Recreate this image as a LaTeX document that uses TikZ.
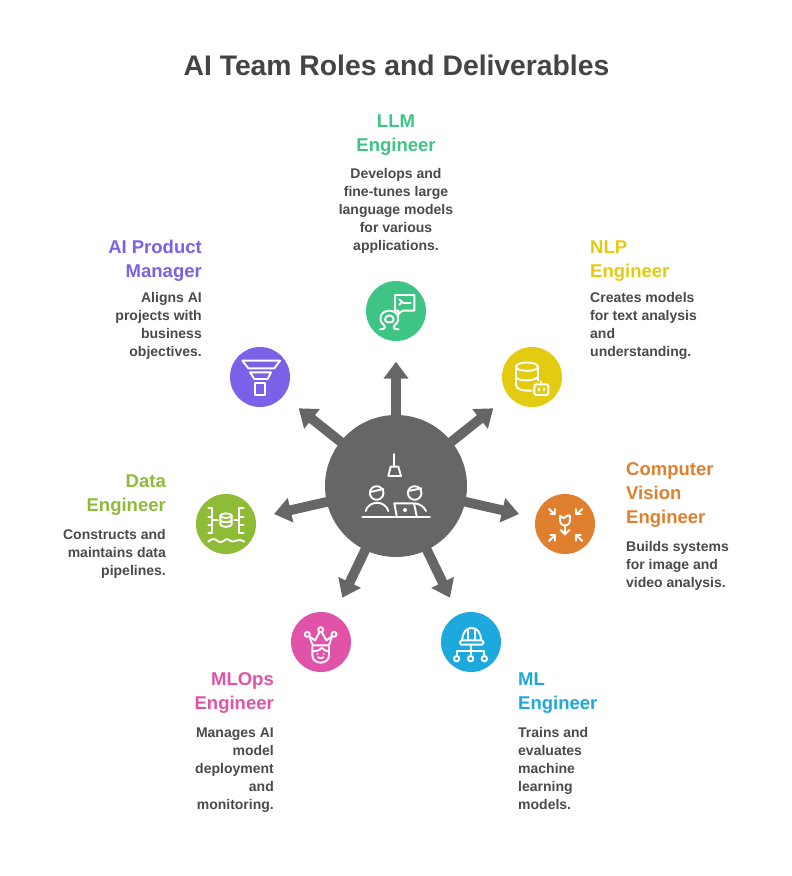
\documentclass[tikz,border=0pt]{standalone}
\usepackage{fontspec}
\setmainfont{Liberation Sans}
\usetikzlibrary{arrows.meta}
\definecolor{cllm}{HTML}{3EC585}
\definecolor{cpm}{HTML}{7B61E8}
\definecolor{cnlp}{HTML}{E3CB12}
\definecolor{ccv}{HTML}{E0802F}
\definecolor{cml}{HTML}{1EA9DC}
\definecolor{cops}{HTML}{E053A9}
\definecolor{cdata}{HTML}{8FBC36}
\definecolor{cgrey}{HTML}{666666}
\definecolor{ctitle}{HTML}{444444}
\definecolor{cdesc}{HTML}{4A4A4A}
\tikzset{
  hub/.style={circle,fill=cgrey,minimum size=142pt,inner sep=0pt},
  disc/.style={circle,minimum size=60pt,inner sep=0pt},
  spoke/.style={draw=cgrey,line width=9.7pt,-{Triangle[length=17pt,width=24pt]}},
  head/.style={font=\fontsize{18.5}{24}\selectfont\bfseries,inner sep=0pt,anchor=north},
  desc/.style={font=\fontsize{14}{18}\selectfont\bfseries,inner sep=0pt,anchor=north,text=cdesc},
  ico/.style={draw=white,line width=1.9pt,line join=round,line cap=round},
  icozoom/.style={shift={#1},x=0.33333pt,y=-0.33333pt}
}
\begin{document}
\begin{tikzpicture}[x=1pt,y=-1pt]
\useasboundingbox (0,0) rectangle (792,876);
\fill[white] (0,0) rectangle (792,876);
\node[font=\fontsize{28.3}{34}\selectfont\bfseries,text=ctitle,inner sep=0pt] (title) at (396.5,65) {AI Team Roles and Deliverables};

% tips
\coordinate (tllm) at (396,361.7);
\coordinate (tpm) at (298.7,408.3);
\coordinate (tnlp) at (493.3,408.3);
\coordinate (tcv) at (519,514);
\coordinate (tml) at (450,597.7);
\coordinate (tops) at (342.3,597.7);
\coordinate (tdata) at (274,514);
\coordinate (hubc) at (396,486);
\foreach \t in {tllm,tpm,tnlp,tcv,tml,tops,tdata}{\draw[spoke] (hubc) -- (\t);}
\node[hub] (center) at (hubc) {};

\node[disc,fill=cllm] (llm) at (396,311) {};
\node[disc,fill=cpm] (pm) at (260,377) {};
\node[disc,fill=cnlp] (nlp) at (532,377) {};
\node[disc,fill=ccv] (cv) at (565,524) {};
\node[disc,fill=cml] (ml) at (471,642) {};
\node[disc,fill=cops] (ops) at (321,642) {};
\node[disc,fill=cdata] (data) at (226,524) {};

% hub icon
\begin{scope}[icozoom={(320,410)}]
\draw[ico] (223,132)--(223,170);
\draw[ico] (212,170)--(235,170)--(243,198)--(205,198)--cycle;
\draw[ico] (170,249) circle (6.8pt);
\draw[ico] (151,246)--(190,237);
\draw[ico] (284,249) circle (6.8pt);
\draw[ico] (265,243)--(304,235);
\draw[ico] (137,303) .. controls (147,270) and (195,270) .. (205,303);
\draw[ico] (285,280) .. controls (300,282) and (312,290) .. (318,303);
\draw[ico] (230,318)--(223,280)--(282,280)--(290,318);
\fill[white] (255,300) circle (2pt);
\draw[ico] (127,322)--(330,322);
\end{scope}

% LLM icon
\begin{scope}[icozoom={(320,270)}]
\draw[ico] (225,75)--(283,75)--(283,122)--(247,122)--(235,133)--(235,122)--(225,122)--cycle;
\draw[ico] (238,88)--(247,96)--(238,104);
\draw[ico] (250,100)--(272,100);
\draw[ico] (180,178) .. controls (196,178) and (198,172) .. (190,163) .. controls (172,150) and (182,122) .. (208,122) .. controls (234,122) and (244,150) .. (226,163) .. controls (218,172) and (220,178) .. (236,178);
\draw[ico] (195,150) .. controls (192,132) and (224,132) .. (221,150) .. controls (220,160) and (196,160) .. (195,150);
\end{scope}

% PM icon
\begin{scope}[icozoom={(220,340)}]
\draw[ico] (67,62)--(180,62)--(163,85)--(85,85)--cycle;
\draw[ico] (90,97)--(153,97)--(143,117)--(103,117)--cycle;
\draw[ico] (104,128) rectangle (135,165);
\end{scope}

% NLP icon
\begin{scope}[icozoom={(490,340)}]
\draw[ico] (111,80) ellipse (11pt and 4.2pt);
\draw[ico] (78,80)--(78,135) .. controls (78,148) and (100,153) .. (125,152);
\draw[ico] (144,80)--(144,122);
\draw[ico] (78,110) .. controls (82,125) and (135,125) .. (144,110);
\draw[ico,rounded corners=2pt] (133,133) rectangle (175,165);
\draw[ico] (154,133)--(154,124);
\draw[ico] (147,145)--(147,151);
\draw[ico] (161,145)--(161,151);
\end{scope}

% CV icon
\begin{scope}[icozoom={(525,485)}]
\draw[ico] (105,92)--(116,100)--(126,92)--(135,92)--(135,105) .. controls (135,118) and (125,122) .. (120,122) .. controls (115,122) and (105,118) .. (105,105)--cycle;
\draw[ico] (120,122)--(120,148);
\draw[ico] (107,135)--(120,148)--(133,135);
\draw[ico] (72,72)--(90,88);
\draw[ico] (76,88)--(91,88)--(91,72);
\draw[ico] (172,72)--(154,88);
\draw[ico] (168,88)--(153,88)--(153,72);
\draw[ico] (72,168)--(90,151);
\draw[ico] (76,151)--(91,151)--(91,167);
\draw[ico] (172,168)--(154,151);
\draw[ico] (168,151)--(153,151)--(153,167);
\end{scope}

% ML icon
\begin{scope}[icozoom={(430,602)}]
\draw[ico,rounded corners=1.5pt] (90,115) rectangle (160,128);
\draw[ico] (97,115) .. controls (97,90) and (110,78) .. (125,78) .. controls (140,78) and (153,90) .. (153,115);
\draw[ico] (113,85)--(113,112);
\draw[ico] (135,85)--(135,112);
\draw[ico] (123,128)--(123,160);
\draw[ico] (80,160)--(80,148)--(163,148)--(163,160);
\draw[ico] (80,170) circle (2.7pt);
\draw[ico] (122,170) circle (2.7pt);
\draw[ico] (163,170) circle (2.7pt);
\end{scope}

% MLOps icon
\begin{scope}[icozoom={(280,602)}]
\draw[ico] (82,97) circle (2.5pt);
\draw[ico] (122,83) circle (2.5pt);
\draw[ico] (162,97) circle (2.5pt);
\draw[ico] (88,103)--(105,115)--(119,90);
\draw[ico] (125,90)--(139,115)--(156,103);
\draw[ico] (88,103)--(98,130)--(147,130)--(156,103);
\draw[ico] (97,135)--(97,160) .. controls (97,175) and (110,182) .. (122,182) .. controls (134,182) and (147,175) .. (147,160)--(147,135);
\draw[ico] (97,148) .. controls (110,148) and (120,145) .. (125,137) .. controls (130,145) and (140,148) .. (147,148);
\fill[white] (113,156) circle (1pt);
\fill[white] (131,156) circle (1pt);
\draw[ico] (114,166) .. controls (118,170) and (126,170) .. (130,166);
\end{scope}

% Data icon
\begin{scope}[icozoom={(186,485)}]
\draw[ico] (78,68)--(78,143);
\draw[ico] (67,70)--(78,70);
\draw[ico] (67,95)--(78,95);
\draw[ico] (67,120)--(78,120);
\draw[ico] (67,143)--(78,143);
\draw[ico] (160,68)--(160,143);
\draw[ico] (160,70)--(173,70);
\draw[ico] (160,95)--(173,95);
\draw[ico] (160,120)--(173,120);
\draw[ico] (160,143)--(173,143);
\draw[ico] (78,105)--(95,105);
\draw[ico] (145,105)--(160,105);
\draw[ico] (120,92) ellipse (5.6pt and 2.3pt);
\draw[ico] (103,92)--(103,118) .. controls (103,128) and (137,128) .. (137,118)--(137,92);
\draw[ico] (103,105) .. controls (103,114) and (137,114) .. (137,105);
\draw[ico] (67,170) .. controls (77,160) and (87,160) .. (95,168) .. controls (103,175) and (110,170) .. (120,163) .. controls (130,160) and (135,175) .. (147,168) .. controls (155,162) and (165,165) .. (175,170);
\end{scope}

% Text
\node[head,text=cllm,align=center] (hllm) at (396,110) {\strut LLM\\Engineer};
\node[desc,align=center] (dllm) at (396,165.4) {\strut Develops and\\fine-tunes large\\language models\\for various\\applications.};
\node[head,text=cpm,align=right,anchor=north east] (hpm) at (202,236) {\strut AI Product\\Manager};
\node[desc,align=right,anchor=north east] (dpm) at (202,289.4) {\strut Aligns AI\\projects with\\business\\objectives.};
\node[head,text=cnlp,align=left,anchor=north west] (hnlp) at (590,236) {\strut NLP\\Engineer};
\node[desc,align=left,anchor=north west] (dnlp) at (590,289.4) {\strut Creates models\\for text analysis\\and\\understanding.};
\node[head,text=ccv,align=left,anchor=north west] (hcv) at (626,458) {\strut Computer\\Vision\\Engineer};
\node[desc,align=left,anchor=north west] (dcv) at (626,538.4) {\strut Builds systems\\for image and\\video analysis.};
\node[head,text=cml,align=left,anchor=north west] (hml) at (518,668) {\strut ML\\Engineer};
\node[desc,align=left,anchor=north west] (dml) at (518,724.4) {\strut Trains and\\evaluates\\machine\\learning\\models.};
\node[head,text=cops,align=right,anchor=north east] (hops) at (274,668) {\strut MLOps\\Engineer};
\node[desc,align=right,anchor=north east] (dops) at (274,724.4) {\strut Manages AI\\model\\deployment\\and\\monitoring.};
\node[head,text=cdata,align=right,anchor=north east] (hdata) at (166,470) {\strut Data\\Engineer};
\node[desc,align=right,anchor=north east] (ddata) at (166,526.4) {\strut Constructs and\\maintains data\\pipelines.};
\end{tikzpicture}
\end{document}
